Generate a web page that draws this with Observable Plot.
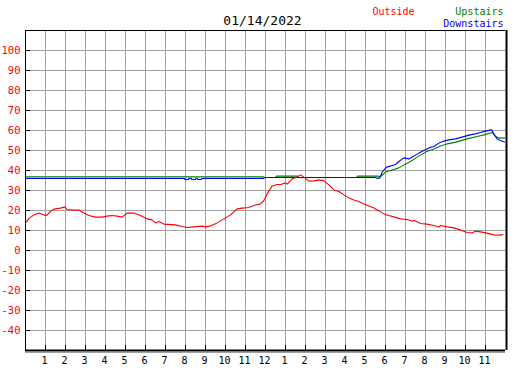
<!DOCTYPE html>
<html><head><meta charset="utf-8">
<script src="https://cdn.jsdelivr.net/npm/d3@7"></script>
<script src="https://cdn.jsdelivr.net/npm/@observablehq/plot@0.6"></script>
<style>html,body{margin:0;padding:0;background:#fff;}</style>
</head><body><div id="chart"></div>
<script>
const titleText = "01/14/2022";
const seriesNames = ["Outside", "Upstairs", "Downstairs"];
const seriesColors = ["#ff0000", "#008000", "#0000ff"];
const yTicks = [-40, -30, -20, -10, 0, 10, 20, 30, 40, 50, 60, 70, 80, 90, 100];
const hourTicks = [1, 2, 3, 4, 5, 6, 7, 8, 9, 10, 11, 12, 13, 14, 15, 16, 17, 18, 19, 20, 21, 22, 23];
const hourLabels = ["1","2","3","4","5","6","7","8","9","10","11","12","1","2","3","4","5","6","7","8","9","10","11"];

const outsideHours = [0.05,0.15,0.42,0.67,0.92,1.05,1.25,1.42,1.75,1.97,2.08,2.42,2.67,2.92,3.17,3.5,3.83,4.08,4.33,4.58,4.83,5.08,5.42,5.75,6.08,6.33,6.5,6.67,6.92,7.5,7.83,8.08,8.42,8.83,9.0,9.25,9.58,9.92,10.25,10.58,10.83,11.17,11.42,11.75,11.92,12.08,12.33,12.58,12.78,12.95,13.1,13.33,13.58,13.75,13.92,14.17,14.42,14.67,14.92,15.17,15.42,15.67,15.92,16.17,16.42,16.67,16.92,17.17,17.42,17.67,17.92,18.17,18.42,18.75,19.08,19.33,19.45,19.75,20.08,20.42,20.67,20.75,21.08,21.42,21.75,22.08,22.33,22.5,22.75,23.08,23.42,23.75,23.88];
const outsideTemps = [14.2,15.8,17.8,18.8,17.8,17.5,19.5,20.7,21.2,21.8,20.5,20.2,20.2,18.8,17.5,16.7,16.7,17.2,17.5,17.2,16.7,18.7,18.7,17.5,15.8,15.3,13.8,14.5,13.2,12.8,12,11.5,11.8,12.2,11.8,12.2,13.8,15.8,17.8,20.8,21.2,21.5,22.5,23.3,25,28.3,32.2,33,33,33.8,33.3,35.8,36.7,37.8,36.7,34.7,34.8,35.3,34.8,32.8,30.3,29.5,27.8,26.3,25.3,24.5,23.2,22.2,21.2,19.8,18.3,17.5,16.8,15.8,15.5,14.7,15,13.5,13.2,12.5,11.7,12.5,11.8,11.3,10.3,9.0,8.8,9.7,9.3,8.7,7.8,7.7,8.0];

const upstairsHours = [0.05,7.95,8.0,9.05,11.9,11.95,12.5,12.55,13.6,13.65,16.55,16.6,17.6,17.75,18.0,18.25,18.67,18.92,19.25,19.58,20.0,20.42,20.75,21.08,21.58,22.08,22.58,22.92,23.33,23.5,23.67,23.95];
const upstairsTemps = [36.8,36.8,36.8,36.8,36.8,36.5,36.5,37.2,37.2,36.5,36.5,37.2,37.2,37,39.2,40,41.3,42.8,44.5,46.7,49.2,50.8,52.2,53.3,54.3,55.8,57,57.8,59,57,56.3,56.2];

const downstairsHours = [0.05,7.95,7.96,8.15,8.16,8.3,8.31,8.5,8.51,8.6,8.61,8.8,8.81,11.9,11.95,17.5,17.55,17.7,17.75,17.83,18.05,18.25,18.5,18.67,18.92,19.17,19.42,19.67,19.92,20.17,20.42,20.67,20.92,21.17,21.5,21.83,22.17,22.5,22.75,23.0,23.3,23.42,23.58,23.75,23.95];
const downstairsTemps = [36,36,35.5,35.5,36,36,35.5,35.5,36,36,35.5,35.5,36,36,36.5,36.5,36.2,36.2,37,39.2,41.7,42.2,43,44.5,46.3,45.8,47.2,48.7,50,51.3,52,53.7,54.7,55.3,55.8,56.7,57.7,58.3,59,59.7,60.3,58.3,55.8,55,54.3];

const toRows = (hs, ts) => hs.map((h, i) => ({hour: h, temp: ts[i]}));
const outside = toRows(outsideHours, outsideTemps);
const upstairs = toRows(upstairsHours, upstairsTemps);
const downstairs = toRows(downstairsHours, downstairsTemps);

const grid = "#a0a0a0";
const mono = "'DejaVu Sans Mono', monospace";

const chart = Plot.plot({
  width: 527, height: 370,
  marginLeft: 25, marginRight: 22, marginTop: 30, marginBottom: 20,
  x: {domain: [0, 24], axis: null},
  y: {domain: [-50, 110], axis: null},
  style: {fontFamily: mono, fontSize: "10px", background: "#fff", overflow: "visible"},
  marks: [
    Plot.ruleX(hourTicks, {x: d => d, stroke: grid}),
    Plot.ruleY(yTicks, {y: d => d, stroke: grid}),
    Plot.ruleY([-50], {y: d => d, stroke: grid, dy: 2}),
    Plot.line(upstairs, {x: "hour", y: "temp", stroke: seriesColors[1], strokeWidth: 1.1}),
    Plot.line(downstairs, {x: "hour", y: "temp", stroke: seriesColors[2], strokeWidth: 1.1}),
    Plot.line(outside, {x: "hour", y: "temp", stroke: seriesColors[0], strokeWidth: 1.1}),
    Plot.ruleX([0], {x: d => d, stroke: "black"}),
    Plot.ruleY([110], {y: d => d, stroke: "black"}),
    Plot.ruleX([24], {x: d => d, stroke: "black", strokeWidth: 2, dx: 1}),
    Plot.ruleY([-50], {y: d => d, stroke: "black", strokeWidth: 2}),
    Plot.ruleY(yTicks, {y: d => d, x1: 0, x2: 0.25, stroke: "black"}),
    Plot.ruleX(hourTicks, {x: d => d, y1: -50, y2: -47.5, stroke: "black"}),
    Plot.text(yTicks, {y: d => d, text: d => String(d), frameAnchor: "left", textAnchor: "end", lineAnchor: "middle", dx: -5, fill: seriesColors[0], fontSize: 10.5}),
    Plot.text(hourTicks, {x: d => d, text: (d, i) => hourLabels[i], frameAnchor: "bottom", lineAnchor: "middle", dy: 10.5, dx: -1, fill: "black", fontSize: 10}),
    Plot.text([titleText], {text: d => d, frameAnchor: "top", lineAnchor: "middle", dx: -3, dy: -10, fontSize: 13, fill: "black"}),
    Plot.text([seriesNames[0]], {text: d => d, frameAnchor: "top-left", textAnchor: "start", lineAnchor: "middle", dx: 347, dy: -19, fill: seriesColors[0], fontSize: 10}),
    Plot.text([seriesNames[1]], {text: d => d, frameAnchor: "top-right", textAnchor: "end", lineAnchor: "middle", dx: -2, dy: -19, fill: seriesColors[1], fontSize: 10}),
    Plot.text([seriesNames[2]], {text: d => d, frameAnchor: "top-right", textAnchor: "end", lineAnchor: "middle", dx: -2, dy: -7, fill: seriesColors[2], fontSize: 10})
  ]
});
document.getElementById("chart").appendChild(chart);
</script>
</body></html>
